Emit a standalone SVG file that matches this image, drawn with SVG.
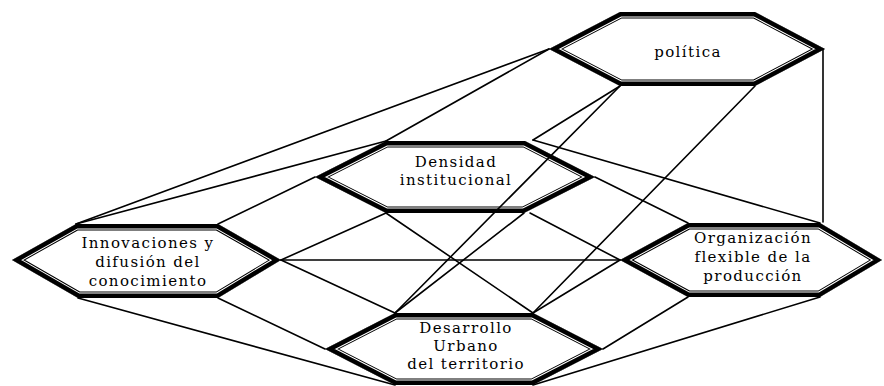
<svg xmlns="http://www.w3.org/2000/svg" xmlns:xlink="http://www.w3.org/1999/xlink" width="884" height="386" viewBox="0 0 884 386">
<style>
.bg{fill:#fff}
.hfill{fill:#fff;stroke:none}
.b1{fill:none;stroke:#000;stroke-width:13;stroke-linejoin:miter}
.b2{fill:none;stroke:#fff;stroke-width:11;stroke-linejoin:miter}
.b3{fill:none;stroke:#000;stroke-width:9;stroke-linejoin:miter}
.lbl{font-family:"DejaVu Serif","Liberation Serif",serif;font-size:15px;letter-spacing:1.4px;fill:#000;text-anchor:middle}
.conn line{stroke:#000;stroke-width:1.6;stroke-linecap:round}
</style>
<defs>
<polygon id="hx-pol" points="549,49 620,12 755,12 825,49 755,86 620,86"/>
<polygon id="hx-den" points="315,177 386,141 525,141 595,177 524,213 386,213"/>
<polygon id="hx-inn" points="12,260 76,224 218,224 281,260 218,298 78,298"/>
<polygon id="hx-org" points="620,260 688,223 820,223 882,260 820,297 688,297"/>
<polygon id="hx-des" points="325,349 395,313 533,313 603,349 533,385 395,385"/>
<clipPath id="cp-pol"><use xlink:href="#hx-pol"/></clipPath>
<clipPath id="cp-den"><use xlink:href="#hx-den"/></clipPath>
<clipPath id="cp-inn"><use xlink:href="#hx-inn"/></clipPath>
<clipPath id="cp-org"><use xlink:href="#hx-org"/></clipPath>
<clipPath id="cp-des"><use xlink:href="#hx-des"/></clipPath>
</defs>
<rect class="bg" x="0" y="0" width="884" height="386"/>

<g id="node-politica">
<use xlink:href="#hx-pol" class="hfill"/>
<use xlink:href="#hx-pol" class="b1" clip-path="url(#cp-pol)"/>
<use xlink:href="#hx-pol" class="b2" clip-path="url(#cp-pol)"/>
<use xlink:href="#hx-pol" class="b3" clip-path="url(#cp-pol)"/>
<text class="lbl" x="688" y="57">política</text>
</g>

<g id="node-densidad">
<use xlink:href="#hx-den" class="hfill"/>
<use xlink:href="#hx-den" class="b1" clip-path="url(#cp-den)"/>
<use xlink:href="#hx-den" class="b2" clip-path="url(#cp-den)"/>
<use xlink:href="#hx-den" class="b3" clip-path="url(#cp-den)"/>
<text class="lbl" x="456" y="167">Densidad</text>
<text class="lbl" x="456" y="185">institucional</text>
</g>

<g id="node-innovaciones">
<use xlink:href="#hx-inn" class="hfill"/>
<use xlink:href="#hx-inn" class="b1" clip-path="url(#cp-inn)"/>
<use xlink:href="#hx-inn" class="b2" clip-path="url(#cp-inn)"/>
<use xlink:href="#hx-inn" class="b3" clip-path="url(#cp-inn)"/>
<text class="lbl" x="148" y="248">Innovaciones y</text>
<text class="lbl" x="148" y="267">difusión del</text>
<text class="lbl" x="148" y="286">conocimiento</text>
</g>

<g id="node-organizacion">
<use xlink:href="#hx-org" class="hfill"/>
<use xlink:href="#hx-org" class="b1" clip-path="url(#cp-org)"/>
<use xlink:href="#hx-org" class="b2" clip-path="url(#cp-org)"/>
<use xlink:href="#hx-org" class="b3" clip-path="url(#cp-org)"/>
<text class="lbl" x="753" y="243">Organización</text>
<text class="lbl" x="753" y="262">flexible de la</text>
<text class="lbl" x="753" y="281">producción</text>
</g>

<g id="node-desarrollo">
<use xlink:href="#hx-des" class="hfill"/>
<use xlink:href="#hx-des" class="b1" clip-path="url(#cp-des)"/>
<use xlink:href="#hx-des" class="b2" clip-path="url(#cp-des)"/>
<use xlink:href="#hx-des" class="b3" clip-path="url(#cp-des)"/>
<text class="lbl" x="466" y="333">Desarrollo</text>
<text class="lbl" x="466" y="351">Urbano</text>
<text class="lbl" x="466" y="369">del territorio</text>
</g>

<g id="connectors" class="conn">
<line x1="549" y1="49" x2="76" y2="224"/>
<line x1="549" y1="49" x2="386" y2="141"/>
<line x1="386" y1="141" x2="76" y2="224"/>
<line x1="315" y1="177" x2="218" y2="224"/>
<line x1="281" y1="260" x2="386" y2="213"/>
<line x1="281" y1="260" x2="620" y2="260"/>
<line x1="281" y1="260" x2="395" y2="313"/>
<line x1="218" y1="298" x2="325" y2="349"/>
<line x1="78" y1="298" x2="395" y2="385"/>
<line x1="386" y1="213" x2="533" y2="313"/>
<line x1="524" y1="213" x2="395" y2="313"/>
<line x1="530" y1="213" x2="620" y2="260"/>
<line x1="595" y1="177" x2="688" y2="223"/>
<line x1="533" y1="140" x2="820" y2="223"/>
<line x1="620" y1="86" x2="533" y2="140"/>
<line x1="620" y1="86" x2="395" y2="313"/>
<line x1="755" y1="86" x2="533" y2="313"/>
<line x1="823" y1="49" x2="823" y2="222"/>
<line x1="533" y1="313" x2="620" y2="260"/>
<line x1="603" y1="349" x2="688" y2="297"/>
<line x1="533" y1="385" x2="820" y2="297"/>
</g>
</svg>
